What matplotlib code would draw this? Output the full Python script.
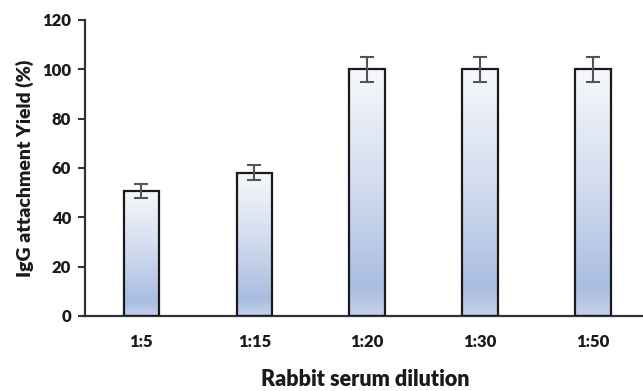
import numpy as np
import matplotlib
matplotlib.use("Agg")
from matplotlib import pyplot as plt
from matplotlib.colors import LinearSegmentedColormap

dilutions = ["1:5", "1:15", "1:20", "1:30", "1:50"]
yield_pct = [50.7, 58.1, 100, 100, 100]
yield_err = [2.7, 3.0, 5.0, 5.0, 5.0]
y_ticks = [0, 20, 40, 60, 80, 100, 120]

plt.rcParams['font.family'] = ['Lato', 'DejaVu Sans']

fig = plt.figure(figsize=(6.43, 3.91), dpi=100)
ax = fig.add_axes([0.132, 0.192, 0.873, 0.757])

# gradient from bottom (0) to top (1)
cmap = LinearSegmentedColormap.from_list(
    "bar", [(0.0, "#c3d1ec"), (0.12, "#a9bde1"), (0.55, "#d4ddef"), (1.0, "#f6f8fc")])
grad = np.linspace(0, 1, 256).reshape(-1, 1)

x = np.arange(len(dilutions))
bars = ax.bar(x, yield_pct, width=0.315, facecolor="none", edgecolor="#1a1a1a",
              linewidth=1.6, zorder=3)
for b in bars:
    x0, y0 = b.get_x(), b.get_y()
    im = ax.imshow(grad, cmap=cmap, origin="lower", aspect="auto",
                   extent=[x0, x0 + b.get_width(), y0, y0 + b.get_height()], zorder=2)
    im.set_clip_path(b)

ax.errorbar(x, yield_pct, yerr=yield_err, fmt="none", ecolor="#555555",
            elinewidth=1.5, capsize=5, capthick=1.5, zorder=4)

ax.set_xlim(-0.5, 4.47)
ax.set_ylim(0, 120)
ax.set_yticks(y_ticks)
ax.set_xticks(x)
ax.set_xticklabels(dilutions)
ax.spines["top"].set_visible(False)
ax.spines["right"].set_visible(False)
for s in ("left", "bottom"):
    ax.spines[s].set_linewidth(1.6)
    ax.spines[s].set_color("#333333")
ax.tick_params(axis="y", direction="out", length=5, width=1.5, color="#333333",
               labelsize=12, pad=5)
ax.tick_params(axis="x", length=0, labelsize=12, pad=13)
for lab in ax.get_xticklabels() + ax.get_yticklabels():
    lab.set_fontweight("heavy")
    lab.set_color("#1a1a1a")

ax.set_ylabel("IgG attachment Yield (%)", fontsize=14, fontweight="heavy",
              color="#1a1a1a", labelpad=6)
ax.set_xlabel("Rabbit serum dilution", fontsize=15.5, fontweight="heavy",
              color="#1a1a1a", labelpad=14)

fig.savefig("out.png", dpi=100)
